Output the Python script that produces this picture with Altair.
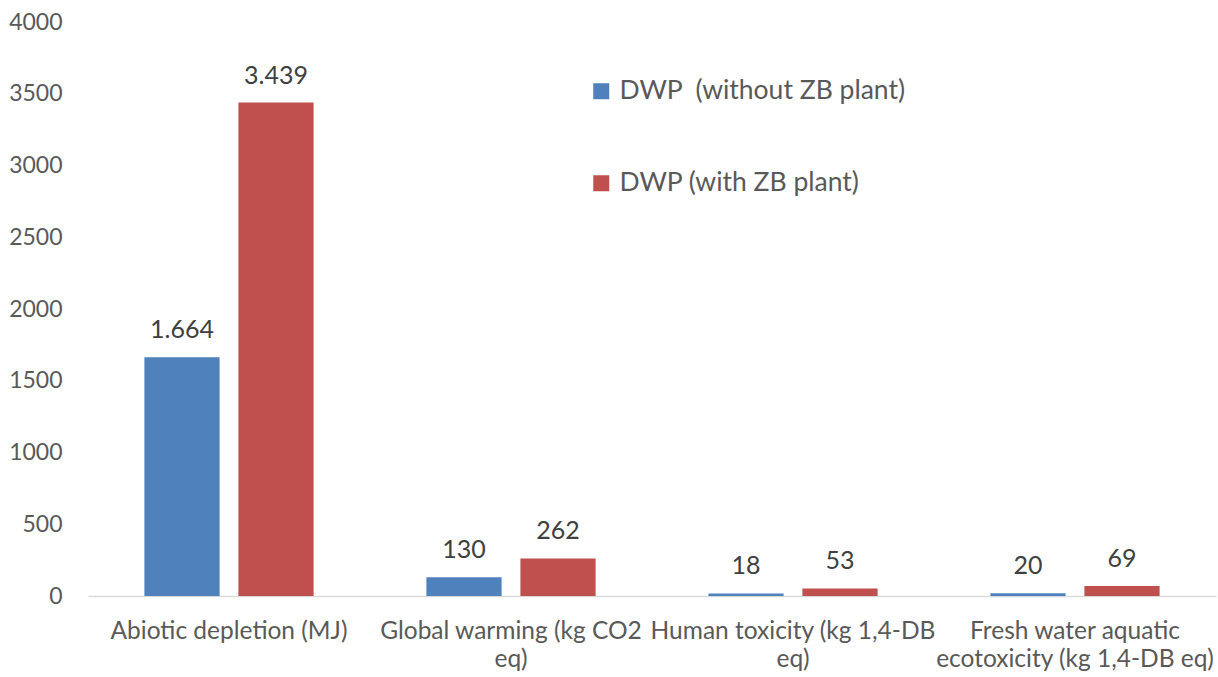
import altair as alt
import pandas as pd

# Impact categories (line breaks mark where the axis label wraps)
categories = [
    "Abiotic depletion (MJ)",
    "Global warming (kg CO2\neq)",
    "Human toxicity (kg 1,4-DB\neq)",
    "Fresh water aquatic\necotoxicity (kg 1,4-DB eq)",
]
series = ["DWP \u00a0(without ZB plant)", "DWP (with ZB plant)"]
without_zb = [1664, 130, 18, 20]
with_zb = [3439, 262, 53, 69]
colors = ["#4F81BD", "#C0504D"]
y_ticks = [0, 500, 1000, 1500, 2000, 2500, 3000, 3500, 4000]

rows = []
for cat, a, b in zip(categories, without_zb, with_zb):
    rows.append({"category": cat, "series": series[0], "value": a})
    rows.append({"category": cat, "series": series[1], "value": b})
df = pd.DataFrame(rows)

FONT = "Lato"

x_enc = alt.X(
    "category:N",
    sort=categories,
    scale=alt.Scale(paddingInner=0, paddingOuter=0),
    axis=alt.Axis(
        title=None,
        labelAngle=0,
        labelExpr="split(datum.value, '\\n')",
        labelFont=FONT,
        labelFontSize=24.5,
        labelColor="#595959",
        labelPadding=23,
        labelLineHeight=28,
        labelBaseline="top",
        labelLimit=0,
        ticks=False,
        domainColor="#D9D9D9",
        domainWidth=1.5,
        grid=False,
    ),
)
xoff = alt.XOffset(
    "series:N",
    sort=series,
    scale=alt.Scale(paddingInner=0.2, paddingOuter=0.6),
)
y_enc = alt.Y(
    "value:Q",
    scale=alt.Scale(domain=[0, 4000], nice=False),
    axis=alt.Axis(
        title=None,
        values=y_ticks,
        format="d",
        labelFont=FONT,
        labelFontSize=23,
        labelColor="#595959",
        labelPadding=26,
        ticks=False,
        domain=False,
        grid=False,
    ),
)

bars = alt.Chart(df).mark_bar().encode(
    x=x_enc,
    xOffset=xoff,
    y=y_enc,
    color=alt.Color(
        "series:N",
        sort=series,
        scale=alt.Scale(domain=series, range=colors),
        legend=alt.Legend(
            title=None,
            orient="none",
            legendX=500,
            legendY=56,
            symbolType="square",
            symbolSize=256,
            symbolStrokeWidth=0,
            labelFont=FONT,
            labelFontSize=26.5,
            labelColor="#595959",
            labelOffset=5,
            labelLimit=0,
            rowPadding=65,
        ),
    ),
)

labels = alt.Chart(df).transform_calculate(
    label="replace(format(datum.value, ','), ',', '.')"
).mark_text(
    font=FONT, fontSize=25, color="#404040", baseline="bottom", dy=-14
).encode(
    x=alt.X("category:N", sort=categories),
    xOffset=alt.XOffset("series:N", sort=series),
    y=alt.Y("value:Q"),
    text="label:N",
)

chart = (
    alt.layer(bars, labels)
    .properties(
        width=1128,
        height=574,
        padding={"left": 88, "top": 22, "right": 2, "bottom": 81},
        autosize=alt.AutoSizeParams(type="none"),
        background="white",
    )
    .configure_view(stroke=None)
)

chart.save("out.html", embed_options={"renderer": "svg", "actions": False})
